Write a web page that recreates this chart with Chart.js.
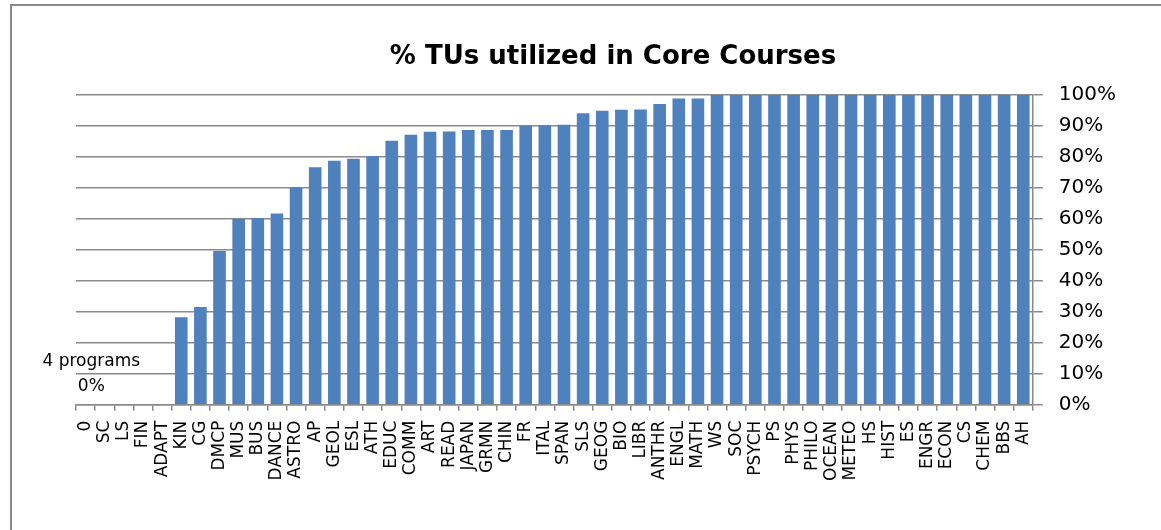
<!DOCTYPE html>
<html>
<head>
<meta charset="utf-8">
<script src="https://cdn.jsdelivr.net/npm/chart.js@4"></script>
<style>
  body { margin: 0; background: #fff; }
  #wrap { width: 1161px; height: 530px; }
</style>
</head>
<body>
<div id="wrap"><canvas id="myChart" width="1161" height="530"></canvas></div>
<script>
// chart data
var chartTitle = '% TUs utilized in Core Courses';
var categories = ['0', 'SC', 'LS', 'FIN', 'ADAPT', 'KIN', 'CG', 'DMCP', 'MUS', 'BUS',
    'DANCE', 'ASTRO', 'AP', 'GEOL', 'ESL', 'ATH', 'EDUC', 'COMM', 'ART', 'READ',
    'JAPAN', 'GRMN', 'CHIN', 'FR', 'ITAL', 'SPAN', 'SLS', 'GEOG', 'BIO', 'LIBR',
    'ANTHR', 'ENGL', 'MATH', 'WS', 'SOC', 'PSYCH', 'PS', 'PHYS', 'PHILO', 'OCEAN',
    'METEO', 'HS', 'HIST', 'ES', 'ENGR', 'ECON', 'CS', 'CHEM', 'BBS', 'AH'];
var utilized = [0, 0, 0, 0, 0, 28.2, 31.5, 49.6, 60.0, 60.3,
    61.7, 70.3, 76.7, 78.8, 79.4, 80.3, 85.2, 87.2, 88.1, 88.2,
    88.7, 88.7, 88.7, 90.1, 90.2, 90.4, 94.1, 94.9, 95.2, 95.3,
    97.1, 98.9, 98.9, 100, 100, 100, 100, 100, 100, 100,
    100, 100, 100, 100, 100, 100, 100, 100, 100, 100];
var yTicks = [0, 10, 20, 30, 40, 50, 60, 70, 80, 90, 100];
var notes = ['4 programs', '0%'];

var gridGray = '#8a8a8a';

// outer frame, title and the text box over the empty programs
var extras = {
    id: 'extras',
    beforeDraw: function (chart) {
        var c = chart.ctx;
        c.save();
        c.fillStyle = '#fff';
        c.fillRect(0, 0, chart.width, chart.height);
        c.strokeStyle = gridGray;
        c.lineWidth = 2;
        c.strokeRect(11, 5, chart.width + 20, chart.height + 20);
        c.restore();
    },
    afterDraw: function (chart) {
        var c = chart.ctx;
        var x = chart.scales.x, y = chart.scales.y;
        c.save();
        c.fillStyle = '#000';
        c.textAlign = 'center';
        c.textBaseline = 'middle';
        // title sits centred on the frame, not on the plot
        c.font = 'bold 26px "DejaVu Sans"';
        c.fillText(chartTitle, (11 + chart.width + 54) / 2, 57);
        var cx = x.getPixelForValue(0.3);
        c.font = '17px "DejaVu Sans"';
        c.fillText(notes[0], cx, y.getPixelForValue(14.0));
        c.fillText(notes[1], cx, y.getPixelForValue(6.0));
        c.restore();
    }
};

var ctx = document.getElementById('myChart').getContext('2d');
var chart = new Chart(ctx, {
    type: 'bar',
    data: {
        labels: categories,
        datasets: [{
            label: '% TUs utilized',
            data: utilized,
            backgroundColor: '#4F81BD',
            borderWidth: 0,
            categoryPercentage: 1,
            barPercentage: 0.66
        }]
    },
    options: {
        responsive: false,
        animation: false,
        layout: { padding: { left: 76, right: 29, top: 95, bottom: 39 } },
        plugins: {
            legend: { display: false },
            tooltip: { enabled: false },
            title: { display: false }
        },
        scales: {
            x: {
                offset: true,
                grid: {
                    offset: true,
                    drawOnChartArea: false,
                    drawTicks: true,
                    tickLength: 6,
                    color: gridGray,
                    lineWidth: 1.5
                },
                border: { display: true, color: gridGray, width: 1.5 },
                ticks: {
                    autoSkip: false,
                    minRotation: 90,
                    maxRotation: 90,
                    padding: 10,
                    color: '#000',
                    font: { family: 'DejaVu Sans', size: 17 }
                }
            },
            y: {
                position: 'right',
                min: 0,
                max: 100,
                afterBuildTicks: function (axis) {
                    axis.ticks = yTicks.map(function (v) { return { value: v }; });
                },
                grid: {
                    color: gridGray,
                    lineWidth: 1.5,
                    tickLength: 10
                },
                border: { display: true, color: gridGray, width: 1.5 },
                ticks: {
                    padding: 16,
                    color: '#000',
                    font: { family: 'DejaVu Sans', size: 20 },
                    callback: function (v) { return v + '%'; }
                }
            }
        }
    },
    plugins: [extras]
});
</script>
</body>
</html>
